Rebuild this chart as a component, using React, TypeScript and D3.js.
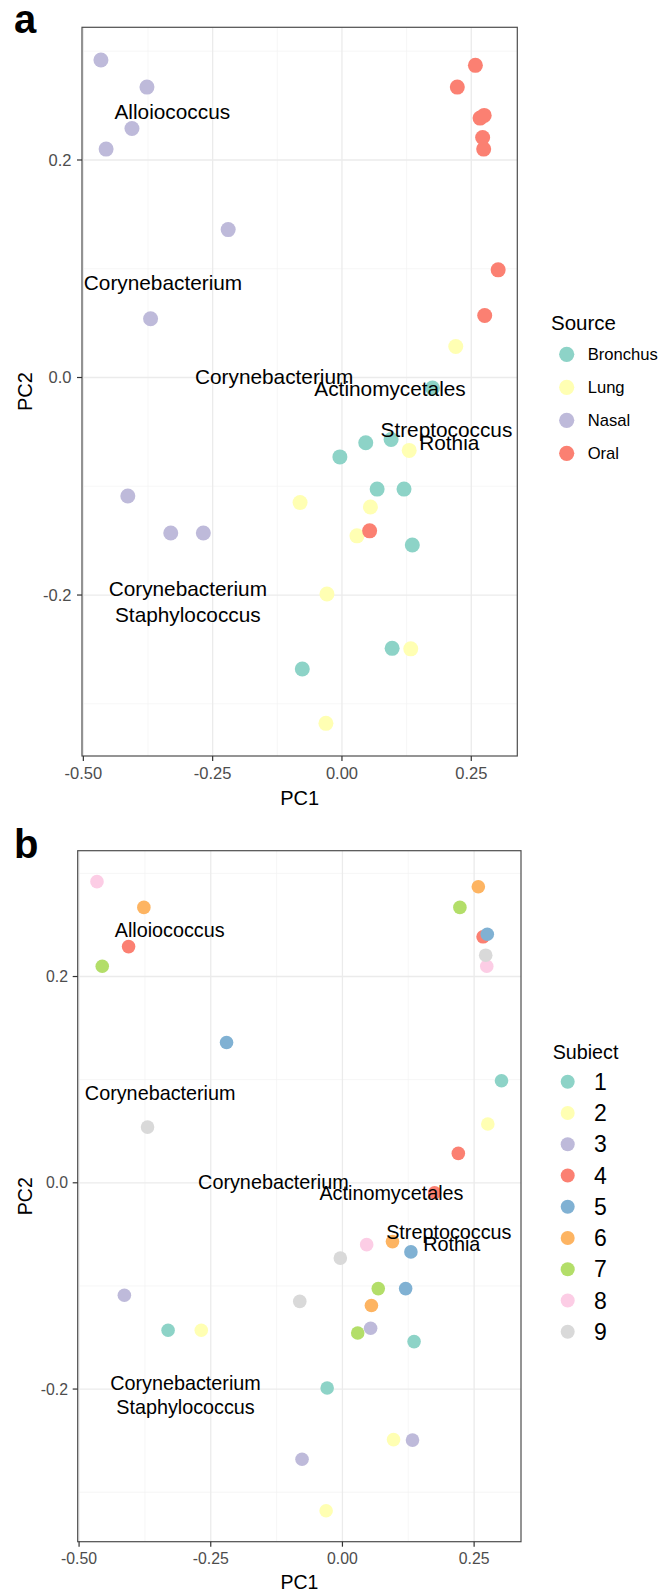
import React from "react";
import * as d3 from "d3";

const sources = ["Bronchus", "Lung", "Nasal", "Oral"];
const sourceColors = ["#8DD3C7", "#FFFFB3", "#BEBADA", "#FB8072"];
const subjects = ["1", "2", "3", "4", "5", "6", "7", "8", "9"];
const subjectColors = ["#8DD3C7", "#FFFFB3", "#BEBADA", "#FB8072", "#80B1D3", "#FDB462", "#B3DE69", "#FCCDE5", "#D9D9D9"];

const pointSource = [
  "Bronchus", "Bronchus", "Bronchus", "Bronchus", "Bronchus", "Bronchus", "Bronchus", "Bronchus", "Bronchus",
  "Lung", "Lung", "Lung", "Lung", "Lung", "Lung", "Lung", "Lung",
  "Nasal", "Nasal", "Nasal", "Nasal", "Nasal", "Nasal", "Nasal", "Nasal", "Nasal",
  "Oral", "Oral", "Oral", "Oral", "Oral", "Oral", "Oral", "Oral", "Oral",
];
const pointSubject = [
  "1", "2", "3", "4", "5", "6", "7", "8", "9",
  "1", "2", "3", "4", "5", "6", "7", "9",
  "1", "2", "3", "4", "5", "6", "7", "8", "9",
  "1", "2", "3", "4", "5", "6", "7", "8", "9",
];
const pc1 = [
  0.136, 0.097, -0.0767, 0.175, 0.12, 0.095, 0.068, 0.046, -0.004,
  -0.029, -0.031, 0.133, 0.22, 0.13, 0.055, 0.029, -0.081,
  -0.331, -0.268, -0.414, -0.406, -0.22, -0.377, -0.456, -0.466, -0.37,
  0.302, 0.276, 0.0535, 0.267, 0.275, 0.258, 0.223, 0.274, 0.272,
];
const pc2 = [
  -0.154, -0.249, -0.268, -0.0097, -0.1026, -0.057, -0.1026, -0.06, -0.073,
  -0.199, -0.318, -0.2495, 0.0285, -0.067, -0.119, -0.1456, -0.115,
  -0.143, -0.143, -0.109, 0.229, 0.136, 0.267, 0.21, 0.292, 0.054,
  0.099, 0.057, -0.141, 0.2385, 0.241, 0.287, 0.267, 0.21, 0.2207,
];

const labelText = ["Alloiococcus", "Corynebacterium", "Corynebacterium", "Actinomycetales", "Streptococcus", "Rothia", "Corynebacterium\nStaphylococcus"];
const labelX = [-0.328, -0.346, -0.131, 0.093, 0.202, 0.2075, -0.298];
const labelY = [0.245, 0.087, 0.001, -0.0097, -0.0474, -0.0594, -0.206];

const xDomain = [-0.5026, 0.339];
const yDomain = [-0.348, 0.322];
const xMajor = [-0.5, -0.25, 0, 0.25];
const xMajorLabels = ["-0.50", "-0.25", "0.00", "0.25"];
const xMinor = [-0.375, -0.125, 0.125];
const yMajor = [-0.2, 0, 0.2];
const yMajorLabels = ["-0.2", "0.0", "0.2"];
const yMinor = [-0.3, -0.1, 0.1, 0.3];

const FONT = "'Liberation Sans', Arial, Helvetica, sans-serif";

type Panel = {
  letter: string; letterY: number;
  x0: number; x1: number; y0: number; y1: number;
  textFs: number; tickFs: number; titleFs: number; r: number; gap: number;
  yTickX: number; xTickBase: number; pc1Base: number;
  legendTitle: string; legendTitleX: number; legendTitleBase: number; legendFs: number; legendTitleFs: number;
  keyX: number; keyTextX: number; keyY0: number; keyStep: number; keyR: number;
  keys: string[]; keyColors: string[]; colorBy: "source" | "subject";
};

const panels: Panel[] = [
  {
    letter: "a", letterY: 33, x0: 82, x1: 517.3, y0: 27.3, y1: 756,
    textFs: 20.8, tickFs: 16.5, titleFs: 20, r: 7.5, gap: 26.3,
    yTickX: 71.5, xTickBase: 779, pc1Base: 805,
    legendTitle: "Source", legendTitleX: 551, legendTitleBase: 330, legendFs: 16.6, legendTitleFs: 20.5,
    keyX: 566.7, keyTextX: 587.7, keyY0: 354.3, keyStep: 33, keyR: 7.6,
    keys: sources, keyColors: sourceColors, colorBy: "source",
  },
  {
    letter: "b", letterY: 858, x0: 77.7, x1: 521, y0: 850.7, y1: 1541.7,
    textFs: 19.8, tickFs: 15.8, titleFs: 19.5, r: 6.8, gap: 24,
    yTickX: 68, xTickBase: 1564, pc1Base: 1589,
    legendTitle: "Subiect", legendTitleX: 552.7, legendTitleBase: 1059.3, legendFs: 23, legendTitleFs: 19.7,
    keyX: 567.7, keyTextX: 594, keyY0: 1081.7, keyStep: 31.25, keyR: 7,
    keys: subjects, keyColors: subjectColors, colorBy: "subject",
  },
];

function PanelView({ p }: { p: Panel }) {
  const x = d3.scaleLinear().domain(xDomain).range([p.x0, p.x1]);
  const y = d3.scaleLinear().domain(yDomain).range([p.y1, p.y0]);
  const color = d3.scaleOrdinal<string, string>().domain(p.keys).range(p.keyColors);
  const idx = d3.range(pc1.length);
  const midY = (p.y0 + p.y1) / 2;
  const midX = (p.x0 + p.x1) / 2;
  return (
    <g>
      <text x={14} y={p.letterY} fontFamily={FONT} fontWeight="bold" fontSize={40} fill="#000">{p.letter}</text>
      <rect x={p.x0} y={p.y0} width={p.x1 - p.x0} height={p.y1 - p.y0} fill="#fff" />
      {xMinor.map((v) => (
        <line key={"xm" + v} x1={x(v)} x2={x(v)} y1={p.y0} y2={p.y1} stroke="#F2F2F2" strokeWidth={0.7} />
      ))}
      {yMinor.map((v) => (
        <line key={"ym" + v} x1={p.x0} x2={p.x1} y1={y(v)} y2={y(v)} stroke="#F2F2F2" strokeWidth={0.7} />
      ))}
      {xMajor.map((v) => (
        <line key={"xM" + v} x1={x(v)} x2={x(v)} y1={p.y0} y2={p.y1} stroke="#EBEBEB" strokeWidth={1.3} />
      ))}
      {yMajor.map((v) => (
        <line key={"yM" + v} x1={p.x0} x2={p.x1} y1={y(v)} y2={y(v)} stroke="#EBEBEB" strokeWidth={1.3} />
      ))}
      {idx.map((i) => {
        const key = p.colorBy === "source" ? pointSource[i] : pointSubject[i];
        return <circle key={"p" + i} cx={x(pc1[i])} cy={y(pc2[i])} r={p.r} fill={color(key)} />;
      })}
      {labelText.map((t, i) => {
        const lines = t.split("\n");
        const n = lines.length;
        return lines.map((ln, j) => {
          const cy = y(labelY[i]) + (j - (n - 1) / 2) * p.gap;
          return (
            <text key={"l" + i + "_" + j} x={x(labelX[i])} y={cy + 0.36 * p.textFs} textAnchor="middle"
              fontFamily={FONT} fontSize={p.textFs} fill="#000">{ln}</text>
          );
        });
      })}
      <rect x={p.x0} y={p.y0} width={p.x1 - p.x0} height={p.y1 - p.y0} fill="none" stroke="#4D4D4D" strokeWidth={1.2} />
      {xMajor.map((v, i) => (
        <g key={"xt" + v}>
          <line x1={x(v)} x2={x(v)} y1={p.y1} y2={p.y1 + 5} stroke="#333" strokeWidth={1.2} />
          <text x={x(v)} y={p.xTickBase} textAnchor="middle" fontFamily={FONT} fontSize={p.tickFs} fill="#4D4D4D">{xMajorLabels[i]}</text>
        </g>
      ))}
      {yMajor.map((v, i) => (
        <g key={"yt" + v}>
          <line x1={p.x0 - 5} x2={p.x0} y1={y(v)} y2={y(v)} stroke="#333" strokeWidth={1.2} />
          <text x={p.yTickX} y={y(v) + 0.36 * p.tickFs} textAnchor="end" fontFamily={FONT} fontSize={p.tickFs} fill="#4D4D4D">{yMajorLabels[i]}</text>
        </g>
      ))}
      <text x={midX} y={p.pc1Base} textAnchor="middle" fontFamily={FONT} fontSize={p.titleFs} fill="#000">PC1</text>
      <text transform={`translate(32,${midY}) rotate(-90)`} textAnchor="middle" fontFamily={FONT} fontSize={p.titleFs} fill="#000">PC2</text>
      <text x={p.legendTitleX} y={p.legendTitleBase} fontFamily={FONT} fontSize={p.legendTitleFs} fill="#000">{p.legendTitle}</text>
      {p.keys.map((k, i) => {
        const cy = p.keyY0 + i * p.keyStep;
        return (
          <g key={"k" + k}>
            <circle cx={p.keyX} cy={cy} r={p.keyR} fill={color(k)} />
            <text x={p.keyTextX} y={cy + 0.36 * p.legendFs} fontFamily={FONT} fontSize={p.legendFs} fill="#000">{k}</text>
          </g>
        );
      })}
    </g>
  );
}

export default function App() {
  return (
    <div style={{ position: "absolute", left: 0, top: 0 }}>
      <svg width={662} height={1592} style={{ display: "block", background: "#fff" }}>
        <rect x={0} y={0} width={662} height={1592} fill="#fff" />
        {panels.map((p) => (
          <PanelView key={p.letter} p={p} />
        ))}
      </svg>
    </div>
  );
}
